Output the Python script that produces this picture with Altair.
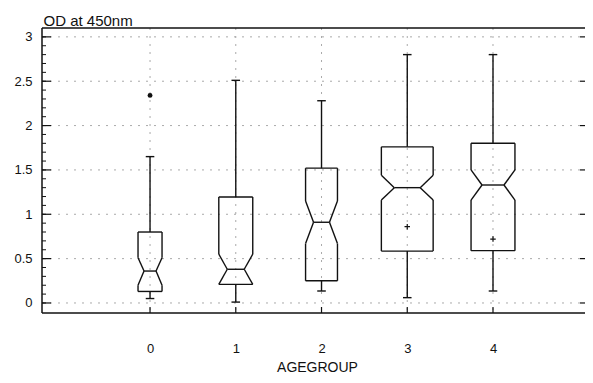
import altair as alt
import pandas as pd

# ---- data ----
groups = [0, 1, 2, 3, 4]
q1 = [0.13, 0.21, 0.25, 0.585, 0.59]
median = [0.36, 0.38, 0.91, 1.30, 1.33]
q3 = [0.80, 1.195, 1.52, 1.76, 1.80]
notch_lo = [0.20, 0.21, 0.67, 1.16, 1.16]
notch_hi = [0.51, 0.55, 1.15, 1.44, 1.50]
whisker_lo = [0.05, 0.01, 0.135, 0.06, 0.135]
whisker_hi = [1.65, 2.51, 2.28, 2.80, 2.80]
box_half = [0.14, 0.198, 0.186, 0.302, 0.256]   # relative box widths (group sizes)
mean_groups = [3, 4]
mean_vals = [0.86, 0.72]
outlier_groups = [0]
outlier_vals = [2.34]

y_ticks = [0, 0.5, 1, 1.5, 2, 2.5, 3]
y_minor = [round(i * 0.1, 1) for i in range(31)]

FONT = "Liberation Sans"
CAP = 0.05
W, H = 543, 285

# ---- build segments of the notched boxes ----
segs = []
for g, a, m, b, nl, nh, wl, wh, w in zip(groups, q1, median, q3, notch_lo, notch_hi,
                                         whisker_lo, whisker_hi, box_half):
    nw = 0.5 * w
    def s(x1, y1, x2, y2):
        segs.append(dict(x=x1, y=y1, x2=x2, y2=y2))
    s(g - w, b, g + w, b)            # top
    s(g - w, a, g + w, a)            # bottom
    for sgn in (-1, 1):
        s(g + sgn * w, b, g + sgn * w, nh)
        s(g + sgn * w, nh, g + sgn * nw, m)
        s(g + sgn * nw, m, g + sgn * w, nl)
        if nl > a:
            s(g + sgn * w, nl, g + sgn * w, a)
    s(g - nw, m, g + nw, m)          # median
    s(g, b, g, wh)                   # upper whisker
    s(g, wl, g, a)                   # lower whisker
    s(g - CAP, wh, g + CAP, wh)
    s(g - CAP, wl, g + CAP, wl)
seg_df = pd.DataFrame(segs)

xs = alt.Scale(domain=[-1.26, 5.073], nice=False, zero=False)
ys = alt.Scale(domain=[-0.113, 3.10], nice=False, zero=False)

x_axis = alt.Axis(values=groups, format="d", title="AGEGROUP", labelPadding=29,
                  titleY=58, titleX=275, titleBaseline="alphabetic")
y_axis = alt.Axis(values=y_ticks, format="~g", title="OD at 450nm", titleAngle=0, titleX=1,
                  titleY=-3, titleAlign="left", titleBaseline="alphabetic",
                  titleFontSize=15, labelPadding=10)

def X(f="x"):
    return alt.X(f"{f}:Q", scale=xs, axis=x_axis)

def Y(f="y"):
    return alt.Y(f"{f}:Q", scale=ys, axis=y_axis)

grid_h = alt.Chart(pd.DataFrame({"y": y_ticks})).mark_rule(
    color="#aaa", strokeDash=[2, 6], strokeWidth=1
).encode(y=Y(), x=alt.value(0), x2=alt.value(W))

grid_v = alt.Chart(pd.DataFrame({"x": groups})).mark_rule(
    color="#aaa", strokeDash=[2, 6], strokeWidth=1
).encode(x=X(), y=alt.value(0), y2=alt.value(H))

# frame: top, bottom, left (right edge lies outside the picture in the reference)
frame_h = alt.Chart(pd.DataFrame({"y": [3.10, -0.113]})).mark_rule(color="#111", strokeWidth=1.5).encode(
    y=Y(), x=alt.value(0), x2=alt.value(W))
frame_v = alt.Chart(pd.DataFrame({"x": [-1.26]})).mark_rule(color="#111", strokeWidth=1.5).encode(
    x=X(), y=alt.value(0), y2=alt.value(H))

boxes = alt.Chart(seg_df).mark_rule(color="#111", strokeWidth=1.4).encode(
    x=X(), y=Y(), x2="x2:Q", y2="y2:Q"
)

minor_l = alt.Chart(pd.DataFrame({"y": y_minor})).mark_rule(color="#111", strokeWidth=1).encode(
    y=Y(), x=alt.value(0), x2=alt.value(4))
major_l = alt.Chart(pd.DataFrame({"y": y_ticks})).mark_rule(color="#111", strokeWidth=1.2).encode(
    y=Y(), x=alt.value(0), x2=alt.value(9))
major_r = alt.Chart(pd.DataFrame({"y": y_ticks})).mark_rule(color="#111", strokeWidth=1.2).encode(
    y=Y(), x=alt.value(W - 5), x2=alt.value(W))
ticks_b = alt.Chart(pd.DataFrame({"x": groups})).mark_rule(color="#111", strokeWidth=1.2).encode(
    x=X(), y=alt.value(H), y2=alt.value(H - 6))

means = alt.Chart(pd.DataFrame({"x": mean_groups, "y": mean_vals})).mark_point(
    shape="M-1,0L1,0M0,-1L0,1", filled=False, color="#111", strokeWidth=1.2, size=30, opacity=1
).encode(x=X(), y=Y())

outliers = alt.Chart(pd.DataFrame({"x": outlier_groups, "y": outlier_vals})).mark_circle(
    color="#111", size=24, opacity=1
).encode(x=X(), y=Y())

chart = alt.layer(
    grid_h, grid_v, frame_h, frame_v, boxes, minor_l, major_l, major_r, ticks_b, means, outliers
).properties(
    width=W, height=H,
    autosize=alt.AutoSizeParams(type="none"),
    padding={"left": 34, "top": 20, "right": 0, "bottom": 62},
    background="white",
).configure_view(
    strokeWidth=0
).configure_axis(
    grid=False, domain=False, ticks=False,
    labelFont=FONT, titleFont=FONT, labelFontSize=13, titleFontSize=14,
    labelColor="#111", titleColor="#111", titleFontWeight="normal",
)

chart.save("out.html", embed_options={"renderer": "svg", "actions": False})
